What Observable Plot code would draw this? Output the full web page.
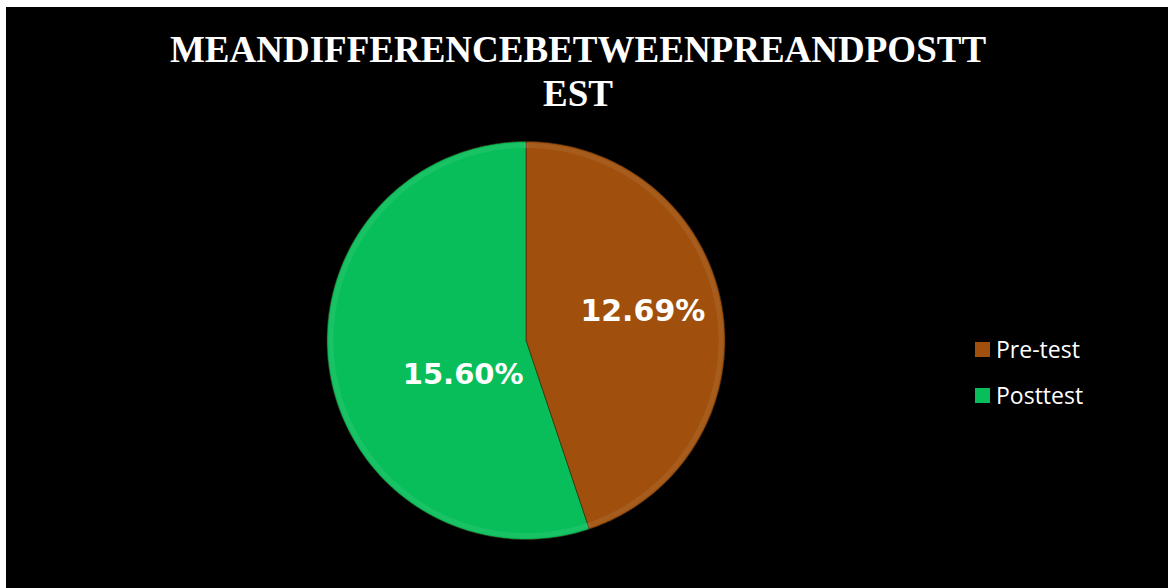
<!DOCTYPE html>
<html><head><meta charset="utf-8">
<script src="https://cdn.jsdelivr.net/npm/d3@7"></script>
<script src="https://cdn.jsdelivr.net/npm/@observablehq/plot@0.6"></script>
<style>
html,body{margin:0;padding:0;background:#fff;}
#frame{position:absolute;left:6px;top:7px;width:1162px;height:581px;background:#000;overflow:hidden;}
#title{position:absolute;left:0;top:21px;width:1144px;text-align:center;color:#fff;
  font-family:"Liberation Serif","Times New Roman",serif;font-weight:bold;font-size:37px;line-height:44px;}
#chart{position:absolute;left:0;top:118px;}
#legend{position:absolute;left:969px;top:319px;}
.lg-swatches{margin:0 !important;min-height:0 !important;}
.lg-swatch{display:flex !important;align-items:center !important;height:46px !important;margin:0 !important;padding:0 !important;
  font-family:"Open Sans",sans-serif !important;font-size:23px !important;color:#fff !important;}
.lg-swatch svg{margin-right:6px !important;flex-shrink:0;}
.lg-swatch-label{color:#fff;}
</style>
</head><body>
<div id="frame">
  <div id="title">MEANDIFFERENCEBETWEENPREANDPOSTT<br>EST</div>
  <div id="chart"></div>
  <div id="legend"></div>
</div>
<script>
const categories = ["Pre-test", "Posttest"];
const values = [12.69, 15.60];
const labels = ["12.69%", "15.60%"];
const colors = ["#A0500C", "#08BE5A"];

const total = d3.sum(values);
const slices = [];
const rims = [];
const labelData = [];
let start = 0;
categories.forEach((cat, i) => {
  const end = start + values[i] / total * 2 * Math.PI;
  const n = Math.max(2, Math.ceil((end - start) / (Math.PI / 180)));
  slices.push({cat, x: 0, y: 0});
  for (let k = 0; k <= n; k++) {
    const a = start + (end - start) * k / n;
    slices.push({cat, x: Math.sin(a), y: Math.cos(a)});
    rims.push({cat, x: 0.98 * Math.sin(a), y: 0.98 * Math.cos(a)});
  }
  slices.push({cat, x: 0, y: 0});
  const mid = (start + end) / 2;
  labelData.push({cat, label: labels[i], x: 0.6 * Math.sin(mid), y: 0.6 * Math.cos(mid)});
  start = end;
});

const W = 1162, H = 463, R = 199, cx = 519.5, cy = 215;
const plot = Plot.plot({
  width: W, height: H,
  margin: 0,
  style: {background: "transparent", overflow: "visible"},
  x: {domain: [-cx / R, (W - cx) / R], axis: null},
  y: {domain: [-(H - cy) / R, cy / R], axis: null},
  color: {domain: categories, range: colors},
  marks: [
    Plot.line(slices, {x: "x", y: "y", z: "cat", fill: "cat", stroke: "#3a2a10", strokeWidth: 1, strokeOpacity: 0.6, curve: "linear"}),
    Plot.line(rims, {x: "x", y: "y", z: "cat", stroke: "#ffffff", strokeOpacity: 0.07, strokeWidth: 5, curve: "linear"}),
    Plot.text(labelData.filter(d => d.cat === "Pre-test"), {x: "x", y: "y", text: "label", fill: "white", fontSize: 30, fontWeight: "bold", fontFamily: "DejaVu Sans", dx: -1, dy: -10}),
    Plot.text(labelData.filter(d => d.cat === "Posttest"), {x: "x", y: "y", text: "label", fill: "white", fontSize: 29, fontWeight: "bold", fontFamily: "DejaVu Sans", dx: 55, dy: 15})
  ]
});
document.getElementById("chart").appendChild(plot);

const leg = Plot.legend({
  color: {domain: categories, range: colors},
  legend: "swatches",
  columns: 1,
  swatchSize: 15,
  className: "lg"
});
document.getElementById("legend").appendChild(leg);
</script>
</body></html>
